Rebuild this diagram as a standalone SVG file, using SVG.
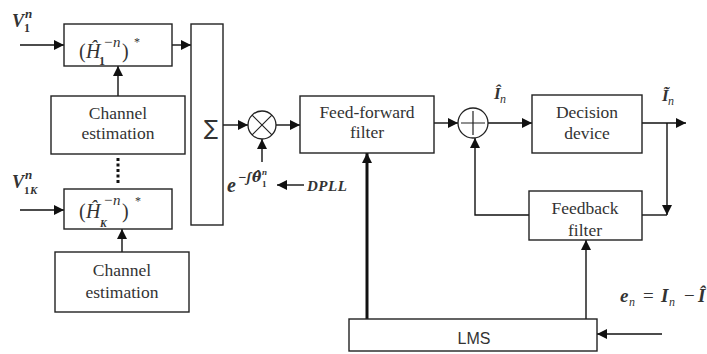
<svg xmlns="http://www.w3.org/2000/svg" width="707" height="354" viewBox="0 0 707 354">
<defs>
<marker id="ah" markerUnits="userSpaceOnUse" markerWidth="12" markerHeight="10" refX="10" refY="5" orient="auto">
<path d="M0,0 L10,5 L0,10 Z" fill="#111"/>
</marker>
<style>
.box{fill:#fff;stroke:#222;stroke-width:1.4}
.c{fill:none;stroke:#111;stroke-width:1.4}
.a{marker-end:url(#ah)}
</style>
</defs>
<rect width="707" height="354" fill="#fff"/>

<g id="connectors">
<line class="c a" x1="20" y1="45" x2="64" y2="45"/>
<line class="c a" x1="172" y1="45" x2="191" y2="45"/>
<line class="c a" x1="118" y1="96" x2="118" y2="66"/>
<line x1="118" y1="158" x2="118" y2="183" stroke="#111" stroke-width="3" stroke-dasharray="3,2.5"/>
<line class="c a" x1="20" y1="210" x2="64" y2="210"/>
<line class="c a" x1="122" y1="252" x2="122" y2="229"/>
<line class="c a" x1="223" y1="125" x2="248" y2="125"/>
<line class="c a" x1="276" y1="125" x2="300" y2="125"/>
<line class="c a" x1="262" y1="162" x2="262" y2="139"/>
<line class="c a" x1="304" y1="185" x2="277" y2="185"/>
<line class="c a" x1="367" y1="319" x2="367" y2="153" style="stroke-width:3"/>
<line class="c a" x1="434" y1="123" x2="458" y2="123"/>
<line class="c a" x1="488" y1="123" x2="532" y2="123"/>
<line class="c a" x1="642" y1="123" x2="686" y2="123"/>
<line class="c a" x1="667" y1="123" x2="667" y2="215"/>
<line class="c" x1="642" y1="215" x2="667" y2="215"/>
<polyline class="c a" points="529,215 475,215 475,138"/>
<line class="c a" x1="586" y1="319" x2="586" y2="240"/>
<line class="c a" x1="662" y1="334" x2="597" y2="334"/>
</g>

<g id="h1" font-family="Liberation Serif, DejaVu Serif, serif" fill="#333">
<rect class="box" x="64" y="24" width="108" height="42"/>
<text font-size="20"><tspan x="79" y="58">(</tspan><tspan x="86" y="58" font-style="italic">Ĥ</tspan><tspan x="99" y="65" font-size="12" font-weight="bold">1</tspan><tspan x="103" y="47" font-size="15" font-style="italic">−n</tspan><tspan x="122" y="58">)</tspan><tspan x="134" y="46" font-size="12">*</tspan></text>
</g>

<g id="ce1" font-family="Liberation Serif, DejaVu Serif, serif" font-size="17.5" fill="#333" text-anchor="middle">
<rect class="box" x="51" y="96" width="134" height="58"/>
<text x="118" y="119">Channel</text>
<text x="118" y="139">estimation</text>
</g>

<g id="hk" font-family="Liberation Serif, DejaVu Serif, serif" fill="#333">
<rect class="box" x="64" y="189" width="108" height="40"/>
<text font-size="20"><tspan x="79" y="218">(</tspan><tspan x="86" y="218" font-style="italic">Ĥ</tspan><tspan x="100" y="227" font-size="10" font-weight="bold" font-style="italic">K</tspan><tspan x="103" y="205" font-size="15" font-style="italic">−n</tspan><tspan x="122" y="218">)</tspan><tspan x="135" y="205" font-size="12">*</tspan></text>
</g>

<g id="ce2" font-family="Liberation Serif, DejaVu Serif, serif" font-size="17.5" fill="#333" text-anchor="middle">
<rect class="box" x="55" y="252" width="134" height="60"/>
<text x="122" y="276">Channel</text>
<text x="122" y="298">estimation</text>
</g>

<g id="sigma">
<rect class="box" x="191" y="24" width="32" height="201"/>
<text x="211" y="135" font-family="DejaVu Sans, sans-serif" font-size="21" fill="#333" text-anchor="middle">∑</text>
</g>

<g id="mult">
<circle cx="262" cy="125" r="14" fill="#fff" stroke="#222" stroke-width="1.3"/>
<path d="M252.1,115.1 L271.9,134.9 M271.9,115.1 L252.1,134.9" stroke="#222" stroke-width="1.2"/>
</g>

<g id="ff" font-family="Liberation Serif, DejaVu Serif, serif" font-size="17.5" fill="#333" text-anchor="middle">
<rect class="box" x="300" y="96" width="134" height="57"/>
<text x="367" y="118">Feed-forward</text>
<text x="367" y="138">filter</text>
</g>

<g id="sum">
<circle cx="473" cy="123" r="15" fill="#fff" stroke="#222" stroke-width="1.3"/>
<path d="M461,123 L485,123 M473,111 L473,135" stroke="#222" stroke-width="1.2"/>
</g>

<g id="decision" font-family="Liberation Serif, DejaVu Serif, serif" font-size="17.5" fill="#333" text-anchor="middle">
<rect class="box" x="532" y="95" width="110" height="58"/>
<text x="587" y="118">Decision</text>
<text x="587" y="139">device</text>
</g>

<g id="feedback" font-family="Liberation Serif, DejaVu Serif, serif" font-size="17.5" fill="#333" text-anchor="middle">
<text x="585" y="214">Feedback</text>
<text x="585" y="236">filter</text>
<rect x="529" y="191" width="113" height="49" fill="none" stroke="#222" stroke-width="1.4"/>
</g>

<g id="lms">
<rect class="box" x="349" y="319" width="248" height="32"/>
<text x="474" y="344" font-family="Liberation Sans, sans-serif" font-size="16" fill="#333" text-anchor="middle">LMS</text>
</g>

<g id="labels" font-family="Liberation Serif, DejaVu Serif, serif" font-style="italic" font-weight="bold" fill="#333">
<text font-size="18"><tspan x="12" y="27">V</tspan><tspan x="24" y="32" font-size="12" font-style="normal">1</tspan><tspan x="25" y="18" font-size="13">n</tspan></text>
<text font-size="18"><tspan x="12" y="188">V</tspan><tspan x="24" y="194" font-size="11" font-style="normal">1</tspan><tspan x="30" y="194" font-size="11">K</tspan><tspan x="25" y="179" font-size="13">n</tspan></text>
<text font-size="20"><tspan x="227" y="192">e</tspan><tspan x="238" y="182" font-size="14">−ʃ</tspan><tspan x="252" y="182" font-size="14" font-family="DejaVu Serif, serif">θ̂</tspan><tspan x="262" y="187" font-size="9" font-style="normal">1</tspan><tspan x="262" y="175" font-size="9">n</tspan></text>
<text x="307" y="191" font-size="15" letter-spacing="0.5">DPLL</text>
<text font-size="17"><tspan x="494" y="99">Î</tspan><tspan x="500" y="103" font-size="12" font-weight="normal">n</tspan></text>
<text font-size="17"><tspan x="662" y="101">Ĩ</tspan><tspan x="668" y="105" font-size="12" font-weight="normal">n</tspan></text>
<text font-size="19"><tspan x="620" y="302">e</tspan><tspan x="629" y="306" font-size="12" font-weight="normal">n</tspan><tspan x="643" y="302" font-style="normal" font-weight="normal">=</tspan><tspan x="661" y="302">I</tspan><tspan x="669" y="306" font-size="12" font-weight="normal">n</tspan><tspan x="684" y="302" font-style="normal" font-weight="normal">−</tspan><tspan x="698" y="302">Î</tspan></text>
</g>
</svg>
